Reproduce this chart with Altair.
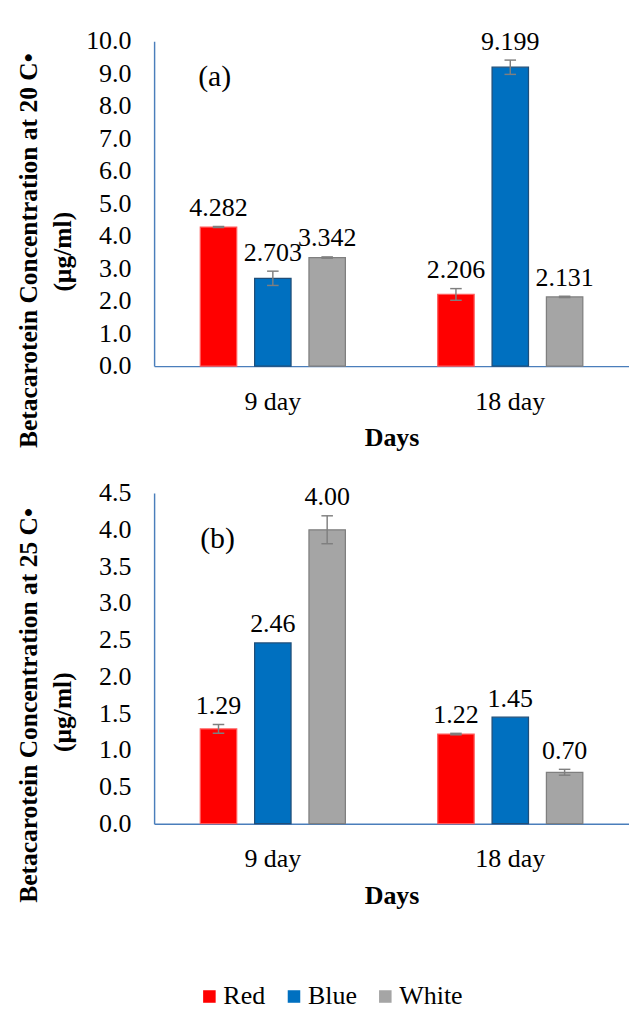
import altair as alt
import pandas as pd

SERIF = "Liberation Serif"

days = ["9 day", "18 day"]
series = ["Red", "Blue", "White"]
day_col = ["9 day", "9 day", "9 day", "18 day", "18 day", "18 day"]
series_col = ["Red", "Blue", "White", "Red", "Blue", "White"]

vals_20 = [4.282, 2.703, 3.342, 2.206, 9.199, 2.131]
err_20 = [0.02, 0.22, 0.02, 0.18, 0.22, 0.02]
vals_25 = [1.29, 2.46, 4.00, 1.22, 1.45, 0.70]
err_25 = [0.06, 0.0, 0.19, 0.01, 0.0, 0.04]

ticks_20 = [0, 1, 2, 3, 4, 5, 6, 7, 8, 9, 10]
ticks_25 = [0, 0.5, 1.0, 1.5, 2.0, 2.5, 3.0, 3.5, 4.0, 4.5]

title_20 = "Betacarotein Concentration at 20 C•"
title_25 = "Betacarotein Concentration at 25 C•"
title_unit = "(µg/ml)"

fill_colors = ["#FF0000", "#0070C0", "#A5A5A5"]
stroke_colors = ["#FF5A5A", "#1F4E79", "#7F7F7F"]
AXIS_BLUE = "#4A7EBB"
ERR_GREY = "#7F7F7F"


def text_value(txt, x, y, angle=0, weight="normal", size=27):
    return alt.Chart(pd.DataFrame({"t": [txt]})).mark_text(
        font=SERIF, fontSize=size, fontWeight=weight, color="black",
        align="center", baseline="middle", angle=angle,
    ).encode(x=alt.value(x), y=alt.value(y), text="t:N")


def panel(vals, errs, fmt, ymax, ticks, title_main, tag, height,
          t1_y, t2_y, tag_x, tag_y):
    df = pd.DataFrame({"day": day_col, "series": series_col, "value": vals, "err": errs})
    df["lo"] = df["value"] - df["err"]
    df["hi"] = df["value"] + df["err"]
    df["label"] = [format(v, fmt) for v in vals]

    yscale = alt.Scale(domain=[0, ymax], nice=False, zero=True)
    yaxis = alt.Axis(
        values=ticks, format=".1f", title=None, grid=False, ticks=False, tickSize=0,
        labelPadding=24, domainColor=AXIS_BLUE, domainWidth=1.5,
    )
    xenc = alt.X("day:N", sort=days, scale=alt.Scale(paddingInner=0, paddingOuter=0),
                 axis=alt.Axis(title="Days", labelAngle=0, ticks=False, tickSize=0,
                               labelPadding=24, titlePadding=12,
                               domainColor=AXIS_BLUE, domainWidth=1.5))
    xoff = alt.XOffset("series:N", sort=series,
                       scale=alt.Scale(paddingInner=0.33, paddingOuter=0.85))

    base = alt.Chart(df).encode(x=xenc, xOffset=xoff)

    bars = base.mark_bar(strokeWidth=1.3).encode(
        y=alt.Y("value:Q", scale=yscale, axis=yaxis),
        color=alt.Color("series:N", sort=series,
                        scale=alt.Scale(domain=series, range=fill_colors),
                        legend=alt.Legend(title=None, orient="none", direction="horizontal",
                                          legendX=44, legendY=980,
                                          symbolType="square", symbolSize=170,
                                          symbolStrokeWidth=0,
                                          labelFont=SERIF, labelFontSize=27,
                                          labelColor="black", labelOffset=1,
                                          columnPadding=16)),
        stroke=alt.Stroke("series:N", sort=series,
                          scale=alt.Scale(domain=series, range=stroke_colors),
                          legend=None),
    )

    eb = base.transform_filter("datum.err > 0")
    rule = eb.mark_rule(color=ERR_GREY, strokeWidth=1.5).encode(
        y=alt.Y("lo:Q", scale=yscale, axis=yaxis), y2="hi:Q")
    cap_lo = eb.mark_tick(color=ERR_GREY, thickness=1.5, size=12, opacity=1).encode(
        y=alt.Y("lo:Q", scale=yscale, axis=yaxis))
    cap_hi = eb.mark_tick(color=ERR_GREY, thickness=1.5, size=12, opacity=1).encode(
        y=alt.Y("hi:Q", scale=yscale, axis=yaxis))

    labels = base.mark_text(baseline="bottom", dy=-5, font=SERIF, fontSize=27,
                            color="black").encode(
        y=alt.Y("hi:Q", scale=yscale, axis=yaxis), text="label:N")

    tag_chart = text_value(tag, tag_x, tag_y, size=31)
    t1 = text_value(title_main, -130, t1_y, angle=270, weight="bold", size=26.5)
    t2 = text_value(title_unit, -94, t2_y, angle=270, weight="bold", size=26.5)

    return alt.layer(bars, rule, cap_lo, cap_hi, labels, tag_chart, t1, t2).properties(
        width=494, height=height)


top = panel(vals_20, err_20, ".3f", 10, ticks_20, title_20, "(a)",
            338, 218, 219, 63, 38)
bottom = panel(vals_25, err_25, ".2f", 4.5, ticks_25, title_25, "(b)",
               344, 221, 228, 66, 48)

chart = alt.vconcat(top, bottom, spacing=30).properties(
    padding={"left": 9, "top": 0, "right": 0, "bottom": 0}
).configure_view(stroke=None).configure_axis(
    labelFont=SERIF, labelFontSize=27, labelColor="black",
    titleFont=SERIF, titleFontSize=27, titleFontWeight="bold", titleColor="black",
)

chart.save("out.html", embed_options={"renderer": "svg", "actions": False})
